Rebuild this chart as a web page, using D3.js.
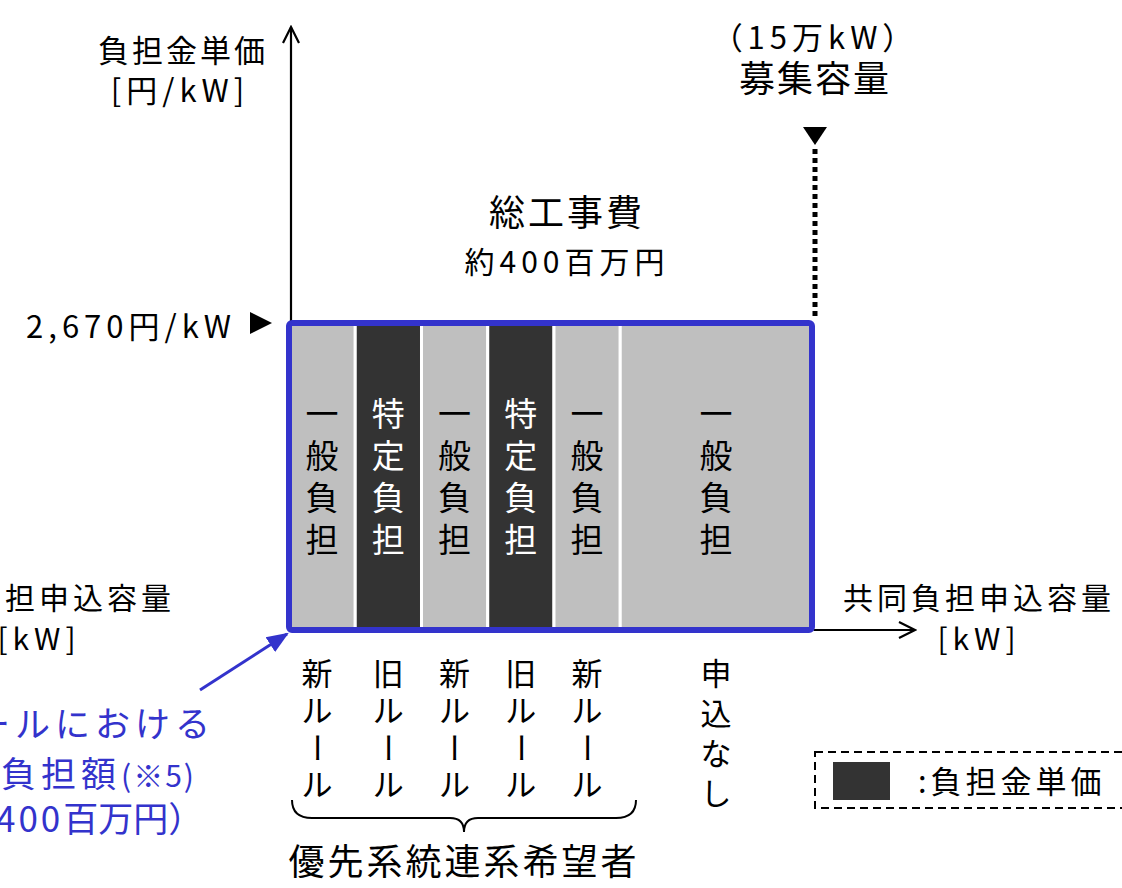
<!DOCTYPE html>
<html>
<head>
<meta charset="utf-8">
<script src="https://cdn.jsdelivr.net/npm/d3@7"></script>
<style>
  body { margin: 0; background: #fff; }
  svg text { font-family: "Noto Sans CJK JP", "Noto Sans", sans-serif; fill: #000; }
</style>
</head>
<body>
<svg id="chart" width="1122" height="888"></svg>
<script>
// segment data: capacity share [kW], type, label inside, rule label below
const segCapacity = [19000, 19000, 19000, 19000, 19000, 55000];
const segType = ["general", "specific", "general", "specific", "general", "general"];
const segLabel = ["一般負担", "特定負担", "一般負担", "特定負担", "一般負担", "一般負担"];
const ruleLabel = ["新ルール", "旧ルール", "新ルール", "旧ルール", "新ルール", "申込なし"];
const unitPrice = 2670;          // 円/kW
const totalCapacity = 150000;    // 15万kW
const priceLabel = "2,670円/kW";

const svg = d3.select("#chart");
const blue = "#3333cc";
const fills = { general: "#bfbfbf", specific: "#333333" };

// scales
const x = d3.scaleLinear().domain([0, totalCapacity]).range([289, 812]);
const y = d3.scaleLinear().domain([0, 5245]).range([630, 27]);

const starts = d3.cumsum([0].concat(segCapacity.slice(0, -1)));
const segs = segCapacity.map((c, i) => ({
    x0: starts[i], x1: starts[i] + c, type: segType[i], label: segLabel[i], rule: ruleLabel[i]
}));

// arrow markers
const defs = svg.append("defs");
defs.append("marker")
    .attr("id", "chev")
    .attr("viewBox", "0 0 20 20")
    .attr("refX", 18).attr("refY", 10)
    .attr("markerWidth", 20).attr("markerHeight", 20)
    .attr("markerUnits", "userSpaceOnUse")
    .attr("orient", "auto")
  .append("path")
    .attr("d", "M2,2 L18,10 L2,18")
    .attr("fill", "none").attr("stroke", "#000").attr("stroke-width", 2.2);
defs.append("marker")
    .attr("id", "bluehead")
    .attr("viewBox", "0 0 20 20")
    .attr("refX", 18).attr("refY", 10)
    .attr("markerWidth", 22).attr("markerHeight", 22)
    .attr("markerUnits", "userSpaceOnUse")
    .attr("orient", "auto")
  .append("path")
    .attr("d", "M0,2 L20,10 L0,18 Z")
    .attr("fill", blue);

// axes
svg.append("line")
    .attr("x1", 291).attr("x2", 291)
    .attr("y1", y(0)).attr("y2", y(y.domain()[1]))
    .attr("stroke", "#000").attr("stroke-width", 2.2)
    .attr("marker-end", "url(#chev)");
svg.append("line")
    .attr("x1", x(0)).attr("x2", 915)
    .attr("y1", y(0)).attr("y2", y(0))
    .attr("stroke", "#000").attr("stroke-width", 2.2)
    .attr("marker-end", "url(#chev)");

// segments
svg.selectAll("rect.seg")
  .data(segs)
  .join("rect")
    .attr("class", "seg")
    .attr("x", d => x(d.x0))
    .attr("y", y(unitPrice))
    .attr("width", d => x(d.x1) - x(d.x0))
    .attr("height", y(0) - y(unitPrice))
    .attr("fill", d => fills[d.type])
    .attr("stroke", "#fff").attr("stroke-width", 3);

// blue outline
svg.append("rect")
    .attr("x", x(0)).attr("y", y(unitPrice))
    .attr("width", x(totalCapacity) - x(0))
    .attr("height", y(0) - y(unitPrice))
    .attr("rx", 3)
    .attr("fill", "none").attr("stroke", blue).attr("stroke-width", 6);

// one character per text, long vowel mark turned upright
function vtext(str, cx, y0, step, size, color) {
    Array.from(str).forEach((ch, k) => {
        const cy = y0 + k * step;
        const t = svg.append("text")
            .attr("x", cx).attr("y", cy)
            .attr("text-anchor", "middle")
            .attr("font-size", size)
            .style("fill", color)
            .text(ch);
        if (ch === "ー") t.attr("transform", `rotate(90,${cx},${cy - size * 0.36})`);
    });
}

segs.forEach((d, i) => {
    const cx = (x(d.x0) + x(d.x1)) / 2;
    vtext(d.label, cx, 426, 42, 33, d.type === "specific" ? "#fff" : "#000");
    if (d.rule === "申込なし") vtext(d.rule, cx, 685, 40, 31, "#000");
    else vtext(d.rule, cx + (i === 0 ? -5 : 0), 685, 37, 31, "#000");
});

// brace under the rule labels
const bx0 = 292, bx1 = 636, bm = (bx0 + bx1) / 2;
svg.append("path")
    .attr("d", `M${bx0},800 Q${bx0},818 ${bx0 + 20},818 L${bm - 14},818 Q${bm},818 ${bm},832 Q${bm},818 ${bm + 14},818 L${bx1 - 20},818 Q${bx1},818 ${bx1},800`)
    .attr("fill", "none").attr("stroke", "#000").attr("stroke-width", 2);
svg.append("text")
    .attr("x", bm).attr("y", 875)
    .attr("text-anchor", "middle").attr("font-size", 36).attr("letter-spacing", 3)
    .text("優先系統連系希望者");

// axis titles
const ylab = svg.append("text").attr("text-anchor", "middle").attr("font-size", 31);
ylab.append("tspan").attr("x", 183).attr("y", 62).attr("letter-spacing", 3).text("負担金単価");
ylab.append("tspan").attr("x", 180).attr("y", 102).attr("letter-spacing", 5).text("[円/kW]");

[39, 979].forEach(cx => {
    const t = svg.append("text").attr("text-anchor", "middle").attr("font-size", 30);
    t.append("tspan").attr("x", cx).attr("y", 609).attr("letter-spacing", 4).text("共同負担申込容量");
    t.append("tspan").attr("x", cx).attr("y", 650).attr("letter-spacing", 5).text("[kW]");
});

// unit price marker
svg.append("text")
    .attr("x", 236).attr("y", y(unitPrice) + 15)
    .attr("text-anchor", "end").attr("font-size", 31).attr("letter-spacing", 5)
    .text(priceLabel);
svg.append("path")
    .attr("d", `M250,${y(unitPrice) - 11} L272,${y(unitPrice)} L250,${y(unitPrice) + 11} Z`)
    .attr("fill", "#000");

// total cost
svg.append("text").attr("x", 567).attr("y", 226).attr("text-anchor", "middle")
    .attr("font-size", 36).attr("letter-spacing", 3).text("総工事費");
svg.append("text").attr("x", 567).attr("y", 273).attr("text-anchor", "middle")
    .attr("font-size", 30).attr("letter-spacing", 5).text("約400百万円");

// recruitment capacity
const rx = 815;
svg.append("text").attr("x", rx).attr("y", 49).attr("text-anchor", "middle")
    .attr("font-size", 31).attr("letter-spacing", 5).text("（15万kW）");
svg.append("text").attr("x", rx).attr("y", 92).attr("text-anchor", "middle")
    .attr("font-size", 36).attr("letter-spacing", 2).text("募集容量");
svg.append("path")
    .attr("d", `M${rx - 12},127 L${rx + 12},127 L${rx},145 Z`)
    .attr("fill", "#000");
svg.append("line")
    .attr("x1", rx).attr("x2", rx).attr("y1", 149).attr("y2", y(unitPrice) - 4)
    .attr("stroke", "#000").attr("stroke-width", 5)
    .attr("stroke-dasharray", "5,4");

// blue annotation (runs off the left edge as in the source)
svg.append("line")
    .attr("x1", 200).attr("y1", 690).attr("x2", 287).attr("y2", 634)
    .attr("stroke", blue).attr("stroke-width", 3)
    .attr("marker-end", "url(#bluehead)");
const ann = svg.append("text").style("fill", blue).attr("font-size", 35);
ann.append("tspan").attr("x", -105).attr("y", 737).attr("letter-spacing", 5).text("新ルールにおける");
ann.append("tspan").attr("x", -79).attr("y", 787).attr("letter-spacing", 5).text("一般負担額");
ann.append("tspan").attr("font-size", 30).attr("letter-spacing", 2).text("(※5)");
ann.append("tspan").attr("x", -88).attr("y", 832).attr("letter-spacing", 7).text("（約");
ann.append("tspan").attr("letter-spacing", 3).text("400");
ann.append("tspan").attr("letter-spacing", 0).text("百万円）");

// legend
svg.append("rect")
    .attr("x", 815).attr("y", 752).attr("width", 330).attr("height", 56)
    .attr("fill", "none").attr("stroke", "#000").attr("stroke-width", 2)
    .attr("stroke-dasharray", "8,5");
svg.append("rect")
    .attr("x", 833).attr("y", 762).attr("width", 57).attr("height", 38)
    .attr("fill", fills.specific);
svg.append("text").attr("x", 918).attr("y", 793).attr("font-size", 31).attr("letter-spacing", 4)
    .text(":負担金単価");
</script>
</body>
</html>
